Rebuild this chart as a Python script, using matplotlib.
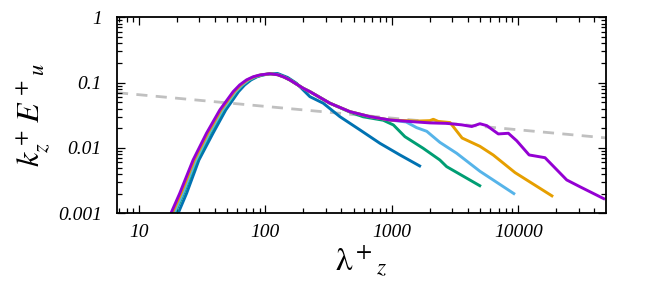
import numpy as np
import matplotlib
matplotlib.use("Agg")
import matplotlib.pyplot as plt
from matplotlib.ticker import LogLocator, FixedLocator, FixedFormatter, NullFormatter

plt.rcParams['mathtext.fontset'] = 'stix'
plt.rcParams['font.family'] = ['Liberation Serif', 'DejaVu Serif']

# shared rising branch (y values); each series has its own x for these
rise_y = [0.001, 0.00202, 0.00655, 0.0168, 0.0382, 0.0728, 0.092, 0.110, 0.123, 0.131, 0.137]

# dark blue
x_a = [20.4, 23.8, 29.8, 38.5, 48.6, 61.3, 68.5, 77, 86, 95.5, 112,
       125, 150, 176, 225, 287, 388, 560, 805, 1160, 1700]
y_a = rise_y + [0.138, 0.120, 0.098, 0.061, 0.0484, 0.0302, 0.0189, 0.0118, 0.00782, 0.00518]

# green
x_b = [19.2, 22.5, 28.6, 36.5, 46.4, 58.9, 66, 74.5, 84, 93.5, 110,
       125, 140, 156, 199, 225, 324, 466, 594, 855, 1030, 1270, 1770, 2400, 2716, 5080]
y_b = rise_y + [0.133, 0.122, 0.110, 0.082, 0.0728, 0.0484, 0.0355, 0.0300, 0.0266,
                0.0225, 0.0149, 0.0099, 0.00655, 0.00518, 0.00258]

# light blue
x_c = [18.9, 22.2, 28.2, 36.0, 45.8, 58.2, 65.5, 73.8, 83, 93, 110,
       125, 140, 156, 199, 225, 324, 466, 671, 966, 1300, 1570, 1890, 2400, 3260, 4980, 9440]
y_c = rise_y + [0.133, 0.122, 0.110, 0.082, 0.0728, 0.0484, 0.036, 0.0302, 0.0268,
                0.0250, 0.0205, 0.0180, 0.0122, 0.0083, 0.0044, 0.00195]

# orange
x_d = [18.3, 21.5, 27.4, 35.0, 44.5, 56.7, 63.8, 72.0, 81.5, 91.5, 109,
       125, 140, 156, 199, 225, 324, 466, 671, 966, 1570, 2000, 2130, 2330, 2890, 3600, 4980,
       6350, 9440, 18900]
y_d = rise_y + [0.132, 0.122, 0.110, 0.082, 0.0728, 0.0484, 0.036, 0.0302, 0.0268,
                0.0258, 0.0262, 0.0275, 0.0255, 0.0245, 0.0142, 0.0106, 0.0078, 0.0042, 0.0018]

# purple
x_e = [17.9, 21, 26.8, 34.2, 43.6, 55.6, 62.5, 70.8, 80, 90.3, 108,
       125, 140, 156, 199, 225, 324, 466, 671, 966, 1570, 2000, 2716, 3570, 4290, 4980, 5640,
       6960, 8360, 9730, 12200, 16300, 24200, 30800, 48600]
y_e = rise_y + [0.132, 0.122, 0.110, 0.082, 0.0728, 0.0484, 0.036, 0.0302, 0.0268,
                0.0250, 0.0242, 0.0238, 0.0226, 0.0213, 0.0235, 0.0220, 0.0164, 0.0168, 0.0129,
                0.00782, 0.0071, 0.00324, 0.00255, 0.00164]

# grey dashed reference line
ref_x = [6.7, 49500]
ref_y = [0.0702, 0.01426]

series = [(x_a, y_a, '#0072B2'), (x_b, y_b, '#009E73'), (x_c, y_c, '#56B4E9'),
          (x_d, y_d, '#E69F00'), (x_e, y_e, '#9400D3')]

fig = plt.figure(figsize=(6.54, 2.99), dpi=100)
ax = fig.add_axes([0.1789, 0.2866, 0.7477, 0.6555])

ax.plot(ref_x, ref_y, color='#c0c0c0', lw=2.0, linestyle=(0, (4, 3)), zorder=1)
for xs, ys, c in series:
    ax.plot(xs, ys, color=c, lw=2.1, solid_capstyle='butt', zorder=2)

ax.set_xscale('log')
ax.set_yscale('log')
ax.set_xlim(6.7, 49500)
ax.set_ylim(0.001, 1)

xt = [10, 100, 1000, 10000]
yt = [0.001, 0.01, 0.1, 1]
ax.xaxis.set_major_locator(FixedLocator(xt))
ax.xaxis.set_major_formatter(FixedFormatter(['10', '100', '1000', '10000']))
ax.yaxis.set_major_locator(FixedLocator(yt))
ax.yaxis.set_major_formatter(FixedFormatter(['0.001', '0.01', '0.1', '1']))
for axis in (ax.xaxis, ax.yaxis):
    axis.set_minor_locator(LogLocator(base=10, subs=np.arange(2, 10), numticks=20))
    axis.set_minor_formatter(NullFormatter())

ax.tick_params(which='both', direction='in', top=True, right=True, width=0.9)
ax.tick_params(which='major', length=6)
ax.tick_params(which='minor', length=3.5)
ax.tick_params(axis='x', pad=8)
ax.tick_params(axis='y', pad=11)
for lab in ax.get_xticklabels() + ax.get_yticklabels():
    lab.set_fontstyle('italic')
    lab.set_fontsize(14)

for sp in ax.spines.values():
    sp.set_linewidth(1.3)

ax.set_xlabel(r'$\mathrm{\lambda}^+{}_z$', fontsize=24, labelpad=2)
ax.set_ylabel(r'$k_z^+\,E^+{}_u$', fontsize=23, labelpad=4)

fig.savefig('out.png', dpi=100)
